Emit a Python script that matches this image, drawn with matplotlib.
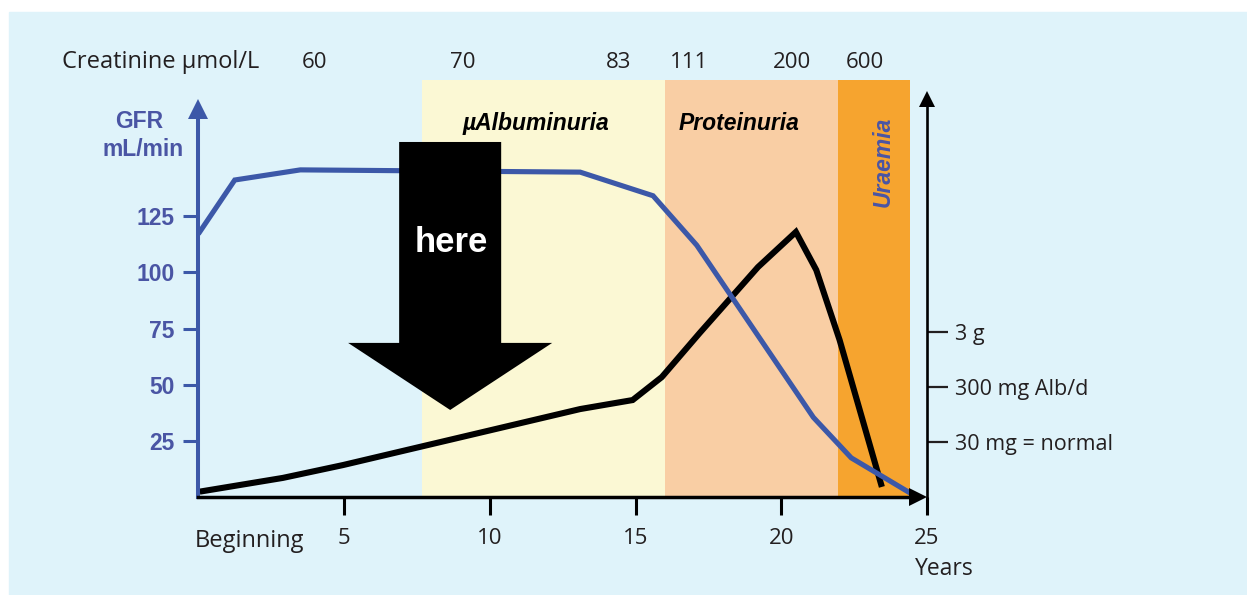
import numpy as np
import matplotlib
matplotlib.use("Agg")
import matplotlib.pyplot as plt
from matplotlib.patches import Rectangle, FancyArrow

plt.rcParams['font.family'] = ['Open Sans', 'DejaVu Sans']
plt.rcParams['font.weight'] = 500

# ---- data ----
# GFR curve (mL/min) over years
gfr_years = [0.0, 1.25, 3.5, 13.1, 15.6, 17.1, 21.1, 22.4, 24.6]
gfr_values = [117, 141, 145.5, 144.5, 134, 112, 35.5, 17.5, 0.5]

# albumin excretion curve (drawn on the same scale as the right axis)
alb_years = [0.05, 2.9, 4.96, 13.1, 14.9, 15.9, 17.2, 19.2, 20.5, 21.2, 22.0, 23.45]
alb_values = [2.5, 8.6, 14.3, 39.2, 43.2, 53.4, 73.0, 102.3, 117.9, 101.0, 69.9, 4.6]

# stage bands
band_names = ['\u00b5Albuminuria', 'Proteinuria', 'Uraemia']
band_start = [7.67, 16.01, 21.94]
band_end = [16.01, 21.94, 24.4]
band_colors = ['#fbf8d4', '#f9cea4', '#f6a42f']
band_top = 185.4

# creatinine scale on top
creat_labels = ['60', '70', '83', '111', '200', '600']
creat_years = [3.97, 9.08, 14.40, 16.83, 20.36, 22.87]

gfr_ticks = [25, 50, 75, 100, 125]
year_ticks = [5, 10, 15, 20, 25]
alb_ticks = [24.5, 49.0, 73.4]
alb_labels = ['30 mg = normal', '300 mg Alb/d', '3 g']

BLUE = '#3c58a8'
BLUE_TXT = '#4a55a4'
BG = '#dff3fa'
INK = '#231f20'

fig = plt.figure(figsize=(12.47, 5.95), dpi=100, facecolor='white')
fig.patches.append(Rectangle((9 / 1247, 0), 1, (595 - 12) / 595,
                             transform=fig.transFigure, color=BG, zorder=-1))

ax = fig.add_axes([0, 0, 1, 1])
ax.set_facecolor('none')
ax.set_xlim(-6.803, 35.976)
ax.set_ylim(-43.44, 221.0)

# bands
for s, e, c in zip(band_start, band_end, band_colors):
    ax.bar(s, band_top, width=e - s, bottom=0, align='edge', color=c,
           linewidth=0, zorder=1)

# curves
ax.plot(alb_years, alb_values, color='black', lw=4.4, zorder=3,
        solid_joinstyle='miter', solid_capstyle='butt')
ax.plot(gfr_years, gfr_values, color=BLUE, lw=3.7, zorder=4,
        solid_joinstyle='miter', solid_capstyle='butt')

# big "here" arrow
ax.add_patch(FancyArrow(8.64, 157.9, 0, -119.1, width=3.5, head_width=7.0,
                        head_length=29.8, length_includes_head=True,
                        color='black', lw=0, zorder=5))
ax.text(8.67, 109.0, 'here', color='white', fontsize=25, fontweight='bold',
        family='Liberation Sans', ha='center', va='baseline', zorder=6)

# axes lines
for side in ['top', 'right']:
    ax.spines[side].set_visible(False)
ax.spines['left'].set_position(('data', 0))
ax.spines['left'].set_bounds(0, 170)
ax.spines['left'].set_color(BLUE)
ax.spines['left'].set_linewidth(2.9)
ax.spines['left'].set_zorder(4)
ax.spines['bottom'].set_position(('data', 0))
ax.spines['bottom'].set_bounds(0, 24.6)
ax.spines['bottom'].set_linewidth(2.5)
ax.spines['bottom'].set_zorder(5)
ax.plot([0], [172.5], marker='^', ms=14.5, color=BLUE, mew=0, zorder=4)
ax.plot([24.68], [0], marker='>', ms=13, color='black', mew=0, zorder=6)

ax.yaxis.set_ticks_position('left')
ax.xaxis.set_ticks_position('bottom')
ax.set_yticks(gfr_ticks)
ax.set_yticklabels([str(v) for v in gfr_ticks])
ax.tick_params(axis='y', direction='out', length=11, width=2.2, color=BLUE,
               labelcolor=BLUE_TXT, pad=6)
for t in ax.get_yticklabels():
    t.set_family('Liberation Sans')
    t.set_fontweight('bold')
    t.set_fontsize(16.5)
ax.set_xticks(year_ticks)
ax.set_xticklabels([str(v) for v in year_ticks])
ax.tick_params(axis='x', direction='out', length=13, width=2.2, color='black',
               labelcolor=INK, labelsize=16, pad=9)

# right axis (albumin)
ax2 = ax.twinx()
ax2.set_ylim(ax.get_ylim())
for side in ['top', 'left', 'bottom']:
    ax2.spines[side].set_visible(False)
ax2.spines['right'].set_position(('data', 25))
ax2.spines['right'].set_bounds(0, 174)
ax2.spines['right'].set_linewidth(1.9)
ax2.plot([25], [177.2], marker='^', ms=12, color='black', mew=0)
ax2.set_yticks(alb_ticks)
ax2.set_yticklabels(alb_labels)
ax2.tick_params(axis='y', direction='out', length=15, width=1.6,
                color=INK, labelcolor=INK, labelsize=15.5, pad=5)

# labels
ax.text(-4.676, 190.8, 'Creatinine \u00b5mol/L', fontsize=17, color=INK,
        ha='left', va='baseline')
for lab, yr in zip(creat_labels, creat_years):
    ax.text(yr, 190.9, lab, fontsize=16, color=INK, ha='center',
            va='baseline')
ax.text(-2.03, 164.1, 'GFR', fontsize=16.5, fontweight='bold',
        family='Liberation Sans', color=BLUE_TXT, ha='center', va='baseline')
ax.text(-1.90, 151.7, 'mL/min', fontsize=16.5, fontweight='bold',
        family='Liberation Sans', color=BLUE_TXT, ha='center', va='baseline')
ax.text(11.58, 163.2, band_names[0], fontsize=16.5, fontweight='bold',
        fontstyle='italic', family='Liberation Sans', ha='center',
        va='baseline', zorder=6)
ax.text(18.55, 163.2, band_names[1], fontsize=16.5, fontweight='bold',
        fontstyle='italic', family='Liberation Sans', ha='center',
        va='baseline', zorder=6)
ax.text(23.73, 149.0, band_names[2], fontsize=16.5, fontweight='bold',
        fontstyle='italic', family='Liberation Sans', color=BLUE_TXT,
        rotation=90, rotation_mode='anchor', ha='center', va='baseline',
        zorder=6)
ax.text(-0.11, -22.1, 'Beginning', fontsize=17, color=INK,
        ha='left', va='baseline')
ax.text(24.58, -34.6, 'Years', fontsize=16.5, color=INK,
        ha='left', va='baseline')

fig.savefig('out.png', dpi=100, facecolor='white')
